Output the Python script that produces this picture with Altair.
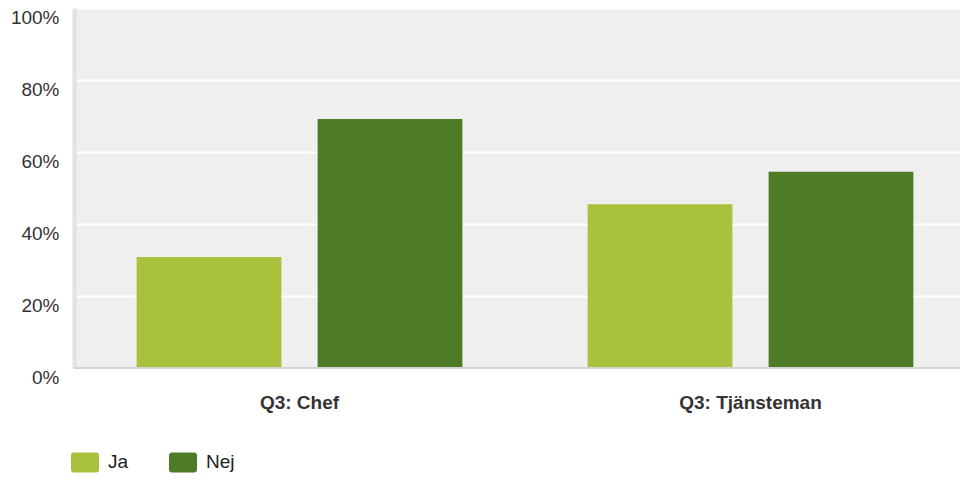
import altair as alt
import pandas as pd

groups = ["Q3: Chef", "Q3: Tjänsteman"]
series = ["Ja", "Nej"]
colors = ["#a8c23e", "#4f7b28"]

row_group = ["Q3: Chef", "Q3: Chef", "Q3: Tjänsteman", "Q3: Tjänsteman"]
row_answer = ["Ja", "Nej", "Ja", "Nej"]
row_pct = [30.8, 69.2, 45.5, 54.5]

y_ticks = [0, 10, 20, 30, 40, 50, 60, 70, 80, 90, 100]

df = pd.DataFrame({"group": row_group, "answer": row_answer, "pct": row_pct})
base_df = pd.DataFrame({"v": [0]})

FONT = "Liberation Sans"
rounded = ("M-0.8,-0.72H0.8A0.2,0.2 0 0 1 1,-0.52V0.52A0.2,0.2 0 0 1 0.8,0.72"
           "H-0.8A0.2,0.2 0 0 1 -1,0.52V-0.52A0.2,0.2 0 0 1 -0.8,-0.72Z")

bars = alt.Chart(df).mark_bar().encode(
    x=alt.X("group:N", sort=groups,
            scale=alt.Scale(range=[0, 902], paddingInner=0, paddingOuter=0),
            axis=alt.Axis(title=None, labelAngle=0, domain=False, ticks=False,
                          labelFontSize=19, labelFontWeight="bold", labelColor="#333333",
                          labelPadding=25, labelBaseline="top", grid=False, labelFont=FONT)),
    xOffset=alt.XOffset("answer:N", sort=series,
                        scale=alt.Scale(paddingInner=0.2, paddingOuter=0.346)),
    y=alt.Y("pct:Q", scale=alt.Scale(domain=[0, 100], nice=False),
            axis=alt.Axis(title=None, values=y_ticks,
                          labelExpr="datum.value % 20 == 0 ? datum.value + '%' : ''",
                          grid=True, gridColor="white", gridWidth=2,
                          domainColor="#e2e2e2", domainWidth=4, ticks=False,
                          labelFontSize=19, labelColor="#333333", labelPadding=15,
                          labelBaseline="top", labelOverlap=False, labelFont=FONT)),
    color=alt.Color("answer:N", sort=series,
                    scale=alt.Scale(domain=series, range=colors),
                    legend=alt.Legend(title=None, orient="none", direction="horizontal",
                                      legendX=-3, legendY=440, symbolType=rounded,
                                      symbolSize=784, symbolStrokeWidth=0,
                                      labelFontSize=19, labelColor="#222222",
                                      labelFont=FONT, labelOffset=9, columnPadding=39,
                                      padding=0)),
)

baseline = alt.Chart(base_df).mark_rule(color="#d4d4d4", strokeWidth=2).encode(
    y=alt.Y("v:Q", scale=alt.Scale(domain=[0, 100], nice=False))
)

chart = alt.layer(bars, baseline).properties(
    width=886, height=360,
    autosize=alt.AutoSizeParams(type="none"),
    padding={"left": 66, "top": 0, "right": 0, "bottom": 106},
    background="white",
).configure(font=FONT).configure_view(fill="#efefef", strokeWidth=0)

chart.save("out.html", embed_options={"renderer": "svg", "actions": False})
